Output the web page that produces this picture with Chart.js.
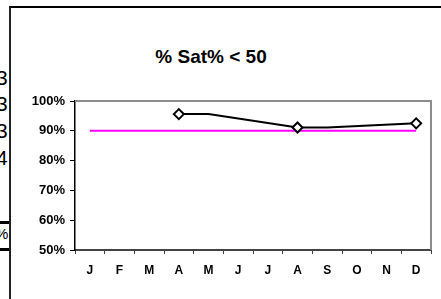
<!DOCTYPE html>
<html>
<head>
<meta charset="utf-8">
<script src="https://cdn.jsdelivr.net/npm/chart.js@4/dist/chart.umd.min.js"></script>
<style>
  html, body { margin: 0; padding: 0; background: #fff; }
  body { width: 441px; height: 299px; position: relative; overflow: hidden; font-family: "Liberation Sans", Arial, sans-serif; }
  #frame { position: absolute; left: 9px; top: 6px; width: 440px; height: 300px; border-left: 2px solid #222; border-top: 2px solid #000; }
  .cut { position: absolute; font-size: 21px; line-height: 20px; color: #000; }
  .rule { position: absolute; left: 0; width: 10px; height: 3px; background: #000; }
  #title { position: absolute; top: 46px; left: 96px; width: 230px; text-align: center; font-weight: bold; font-size: 19px; line-height: 22px; }
  #wrap { position: absolute; left: 0; top: 0; width: 441px; height: 299px; }
</style>
</head>
<body>
<div class="cut" style="left:-4px; top:68px;">3</div>
<div class="cut" style="left:-4px; top:94px;">3</div>
<div class="cut" style="left:-4px; top:121px;">3</div>
<div class="cut" style="left:-4px; top:148px;">4</div>
<div class="rule" style="top:221px;"></div>
<div class="rule" style="top:248px;"></div>
<div class="cut" style="left:-5px; top:226px; font-size:15px; line-height:15px;">%</div>
<div id="frame"></div>
<div id="title">% Sat% &lt; 50</div>
<div id="wrap"><canvas id="satChart" width="441" height="299"></canvas></div>
<script>
const months = ['J', 'F', 'M', 'A', 'M', 'J', 'J', 'A', 'S', 'O', 'N', 'D'];
const satValues = [null, null, null, 95.6, 95.6, null, null, 91.1, 91.1, null, null, 92.5];
const satMarkers = [0, 0, 0, 5, 0, 0, 0, 5, 0, 0, 0, 5];
const targetValues = [90, 90, 90, 90, 90, 90, 90, 90, 90, 90, 90, 90];
const yTicks = [50, 60, 70, 80, 90, 100];

// gray top/right edges of the plot area
const plotBorder = {
    id: 'plotBorder',
    beforeDatasetsDraw(chart) {
        const a = chart.chartArea;
        const ctx = chart.ctx;
        ctx.save();
        ctx.strokeStyle = '#8c8c8c';
        ctx.lineWidth = 2;
        ctx.beginPath();
        ctx.moveTo(a.left, a.top);
        ctx.lineTo(a.right, a.top);
        ctx.lineTo(a.right, a.bottom);
        ctx.stroke();
        ctx.restore();
    }
};

const ctx = document.getElementById('satChart').getContext('2d');
new Chart(ctx, {
    type: 'line',
    data: {
        labels: months,
        datasets: [{
            label: '% Sat% < 50',
            data: satValues,
            borderColor: '#000',
            borderWidth: 2,
            spanGaps: true,
            tension: 0,
            pointStyle: 'rectRot',
            pointRadius: satMarkers,
            pointBackgroundColor: '#fff',
            pointBorderColor: '#000',
            pointBorderWidth: 2,
            order: 1
        }, {
            label: 'Target',
            data: targetValues,
            borderColor: '#ff00ff',
            borderWidth: 2,
            pointRadius: 0,
            tension: 0,
            order: 2
        }]
    },
    options: {
        responsive: false,
        animation: false,
        layout: { padding: { left: 10, top: 101, right: 10, bottom: 0 } },
        plugins: {
            legend: { display: false },
            tooltip: { enabled: false }
        },
        scales: {
            x: {
                offset: true,
                grid: { offset: true, drawOnChartArea: false, color: '#444', tickLength: 4, tickWidth: 1 },
                border: { color: '#444', width: 2 },
                ticks: {
                    color: '#000',
                    padding: 9,
                    maxRotation: 0,
                    autoSkip: false,
                    font: { family: '"Liberation Sans", Arial, sans-serif', size: 12, weight: 'bold' }
                },
                afterFit: function(scale) { scale.height = 49; }
            },
            y: {
                min: 50,
                max: 100,
                afterBuildTicks: function(scale) { scale.ticks = yTicks.map(v => ({ value: v })); },
                grid: { drawOnChartArea: false, color: '#000', tickLength: 5 },
                border: { color: '#000', width: 1.5 },
                ticks: {
                    color: '#000',
                    padding: 5,
                    font: { family: '"Liberation Sans", Arial, sans-serif', size: 13, weight: 'bold' },
                    callback: function(value) { return value + '%'; }
                },
                afterFit: function(scale) { scale.width = 65; }
            }
        }
    },
    plugins: [plotBorder]
});
</script>
</body>
</html>
